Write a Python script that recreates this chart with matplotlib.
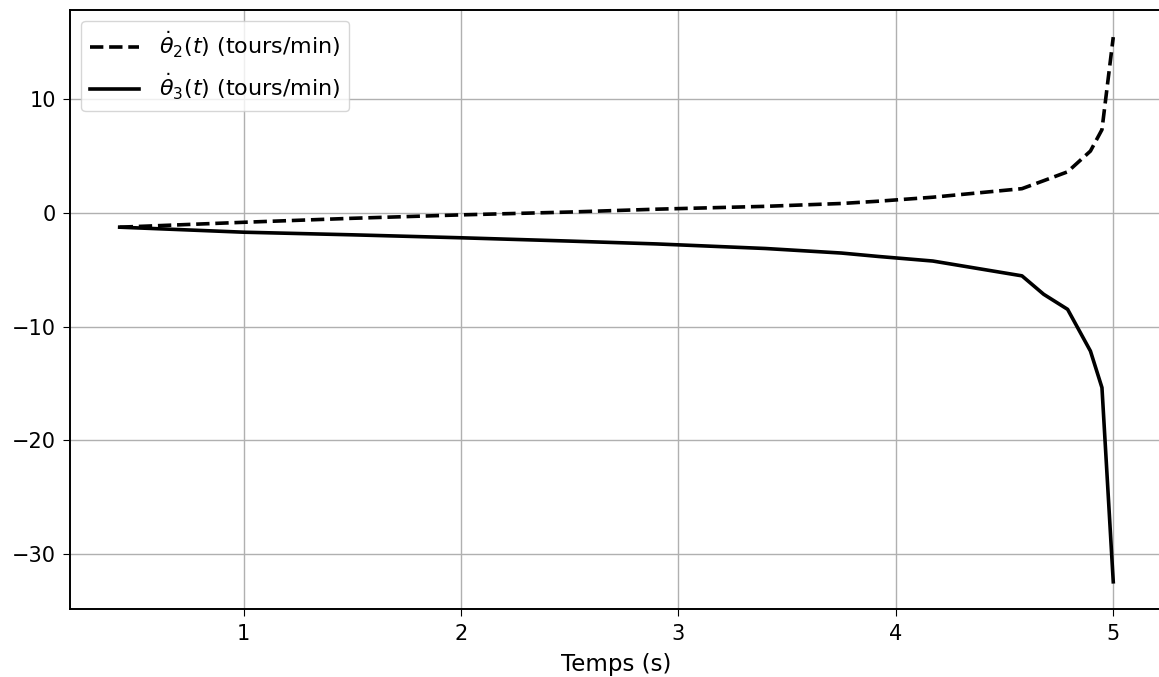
import numpy as np
import matplotlib.pyplot as plt

# temps (s) et vitesses angulaires
t = [0.43, 1.0, 1.5, 2.0, 2.5, 2.9, 3.4, 3.75, 3.92, 4.17,
     4.58, 4.68, 4.79, 4.895, 4.948, 5.0]
theta2_dot = [-1.28, -0.85, -0.5, -0.2, 0.05, 0.3, 0.55, 0.8, 1.0, 1.35,
              2.1, 2.8, 3.58, 5.4, 7.28, 15.4]
theta3_dot = [-1.28, -1.72, -1.95, -2.21, -2.5, -2.75, -3.15, -3.55, -3.85, -4.25,
              -5.55, -7.17, -8.49, -12.15, -15.36, -32.4]

plt.rcParams['font.size'] = 15
plt.rcParams['axes.linewidth'] = 1.4
plt.rcParams['grid.linewidth'] = 1.0
plt.rcParams['xtick.major.size'] = 5
plt.rcParams['ytick.major.size'] = 5
plt.rcParams['xtick.major.pad'] = 6
plt.rcParams['ytick.major.pad'] = 5

fig = plt.figure(figsize=(11.59, 6.77), dpi=100)
ax = fig.add_axes([0.0604, 0.1004, 0.943, 0.885])

ax.plot(t, theta2_dot, 'k--', lw=2.6, label=r'$\dot{\theta}_2(t)$ (tours/min)')
ax.plot(t, theta3_dot, 'k-', lw=2.6, label=r'$\dot{\theta}_3(t)$ (tours/min)')

ax.set_xlabel('Temps (s)', fontsize=16.5, labelpad=6)
ax.grid(True)
ax.legend(loc='upper left', fontsize=16, handlelength=2.2, handletextpad=0.9)

fig.savefig('out.png', dpi=100)
